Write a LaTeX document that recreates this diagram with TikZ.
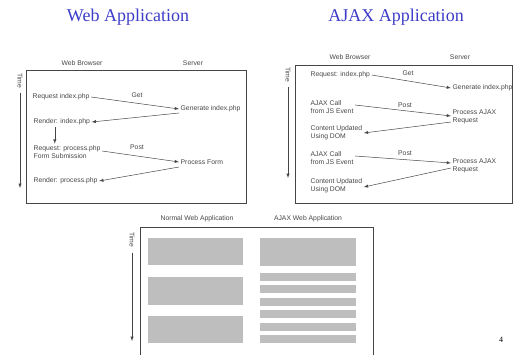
\documentclass[tikz,border=0pt]{standalone}
\usepackage{fontspec}
\setmainfont{Liberation Serif}
\setsansfont{Liberation Sans}
\definecolor{titleblue}{RGB}{60,60,200}
\definecolor{scanink}{RGB}{70,70,70}
\definecolor{scanbar}{RGB}{190,190,190}
\begin{document}
\begin{tikzpicture}[x=1pt,y=-1pt,>=latex,
  every node/.style = {inner sep=1.5pt, text=scanink,
    font=\sffamily\fontsize{6.8}{8.2}\selectfont, align=left},
  title/.style = {text=titleblue, font=\rmfamily\fontsize{18}{20}\selectfont},
  frame/.style = {draw=scanink, line width=0.6pt},
  flow/.style = {->, draw=scanink, line width=0.5pt},
  timelabel/.style = {rotate=-90, inner sep=0pt},
  bar/.style = {fill=scanbar}]
  \useasboundingbox (0,0) rectangle (516,355);
  \node[title] (webtitle) at (128,17) {Web Application};
  \node[title] (ajaxtitle) at (396,17) {AJAX Application};

  % normal web application
  \draw[frame] (26,70) rectangle (246,203);
  \node (wbrowser) at (82,63) {Web Browser};
  \node (wserver) at (193,63) {Server};
  \node[timelabel] (wtime) at (20,81) {Time};
  \coordinate (wtimeend) at (20,188);
  \draw[flow] (wtime.east) ++(0,4) -- (wtimeend);
  \node[anchor=west] (req1) at (31,97) {Request index.php};
  \node[anchor=west] (gen1) at (179,109) {Generate index.php};
  \node[anchor=west] (ren1) at (32,122) {Render: index.php};
  \node[anchor=west] (req2) at (32,152) {Request: process.php\\Form Submission};
  \node[anchor=west] (pf) at (179,162) {Process Form};
  \node[anchor=west] (ren2) at (32,181) {Render: process.php};
  \node (get1) at (137,95) {Get};
  \node (post1) at (137,147) {Post};
  \draw[flow] (req1.east) -- (gen1.west);
  \draw[flow] ([yshift=-4pt]gen1.west) -- (ren1.east);
  \draw[flow] ([xshift=-7pt]ren1.south) -- ([xshift=-7pt]ren1.south |- req2.north);
  \draw[flow] ([yshift=1pt]req2.east) -- (pf.west);
  \draw[flow] ([yshift=-5pt]pf.west) -- (ren2.east);

  % ajax application
  \draw[frame] (295,65) rectangle (512,203);
  \node (abrowser) at (350,57) {Web Browser};
  \node (aserver) at (460,57) {Server};
  \node[timelabel] (atime) at (288,75) {Time};
  \coordinate (atimeend) at (288,178);
  \draw[flow] (atime.east) ++(0,4) -- (atimeend);
  \node[anchor=west] (areq) at (309,75) {Request: index.php};
  \node[anchor=west] (agen) at (451,88) {Generate index.php};
  \node[anchor=west] (aj1) at (309,107) {AJAX Call\\from JS Event};
  \node[anchor=west] (pa1) at (451,117) {Process AJAX\\Request};
  \node[anchor=west] (cu1) at (309,133) {Content Updated\\Using DOM};
  \node[anchor=west] (aj2) at (309,158) {AJAX Call\\from JS Event};
  \node[anchor=west] (pa2) at (451,166) {Process AJAX\\Request};
  \node[anchor=west] (cu2) at (309,186) {Content Updated\\Using DOM};
  \node (aget) at (408,73) {Get};
  \node (apost1) at (405,105) {Post};
  \node (apost2) at (405,153) {Post};
  \draw[flow] (areq.east) -- (agen.west);
  \draw[flow] ([yshift=2pt]aj1.east) -- ([yshift=1pt]pa1.west);
  \draw[flow] ([yshift=-5pt]pa1.west) -- (cu1.east);
  \draw[flow] ([yshift=2pt]aj2.east) -- ([yshift=3pt]pa2.west);
  \draw[flow] ([yshift=-2pt]pa2.west) -- ([yshift=-1pt]cu2.east);

  % timeline comparison
  \draw[frame] (140,227) rectangle (373,356);
  \node (normal) at (197,219) {Normal Web Application};
  \node (ajaxweb) at (308,219) {AJAX Web Application};
  \node[timelabel] (btime) at (132,240) {Time};
  \coordinate (btimeend) at (132,341);
  \draw[flow] (btime.east) ++(0,5) -- (btimeend);
  \foreach \top/\bot in {238/265, 277/305, 316/343}
    \fill[bar] (148,\top) rectangle (243,\bot);
  \fill[bar] (260,238) rectangle (356,266);
  \foreach \i in {0,...,5}
    \fill[bar] (260,273+12.4*\i) rectangle (356,281+12.4*\i);

  \node[text=black, font=\rmfamily\fontsize{8}{9}\selectfont] (pagenum) at (501,340) {4};
\end{tikzpicture}
\end{document}
